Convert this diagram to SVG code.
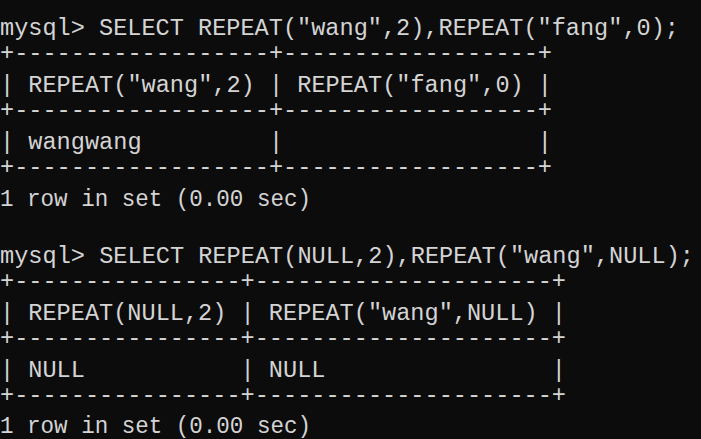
<svg xmlns="http://www.w3.org/2000/svg" width="701" height="439" viewBox="0 0 701 439">
<style>
text{font-family:"Liberation Mono","DejaVu Sans Mono",monospace;font-size:23px;fill:#d4d4d4;white-space:pre}
</style>
<rect width="701" height="439" fill="#0c0c0c"/>
<g id="terminal" xml:space="preserve">
<text x="0" y="35" textLength="679" lengthAdjust="spacingAndGlyphs">mysql&gt; SELECT REPEAT("wang",2),REPEAT("fang",0);</text>
<text x="0" y="60" textLength="552" lengthAdjust="spacingAndGlyphs">+------------------+------------------+</text>
<text x="0" y="92" textLength="552" lengthAdjust="spacingAndGlyphs">| REPEAT("wang",2) | REPEAT("fang",0) |</text>
<text x="0" y="117" textLength="552" lengthAdjust="spacingAndGlyphs">+------------------+------------------+</text>
<text x="0" y="149" textLength="552" lengthAdjust="spacingAndGlyphs">| wangwang         |                  |</text>
<text x="0" y="174" textLength="552" lengthAdjust="spacingAndGlyphs">+------------------+------------------+</text>
<text x="0" y="206" textLength="311" lengthAdjust="spacingAndGlyphs">1 row in set (0.00 sec)</text>
<text x="0" y="263" textLength="694" lengthAdjust="spacingAndGlyphs">mysql&gt; SELECT REPEAT(NULL,2),REPEAT("wang",NULL);</text>
<text x="0" y="288" textLength="566" lengthAdjust="spacingAndGlyphs">+----------------+---------------------+</text>
<text x="0" y="320" textLength="566" lengthAdjust="spacingAndGlyphs">| REPEAT(NULL,2) | REPEAT("wang",NULL) |</text>
<text x="0" y="345" textLength="566" lengthAdjust="spacingAndGlyphs">+----------------+---------------------+</text>
<text x="0" y="377" textLength="566" lengthAdjust="spacingAndGlyphs">| NULL           | NULL                |</text>
<text x="0" y="402" textLength="566" lengthAdjust="spacingAndGlyphs">+----------------+---------------------+</text>
<text x="0" y="433" textLength="311" lengthAdjust="spacingAndGlyphs">1 row in set (0.00 sec)</text>
</g>
</svg>
